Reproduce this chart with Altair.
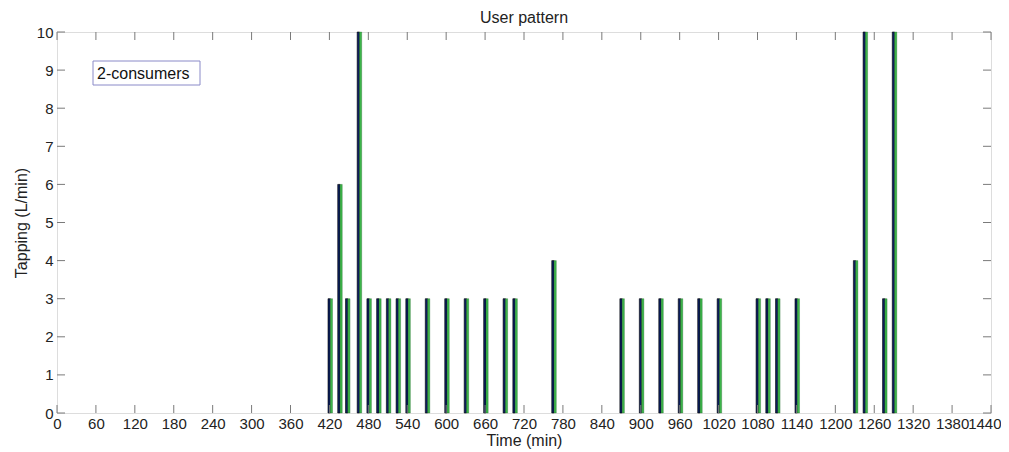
import altair as alt
import pandas as pd

# Data
times = [420, 435, 447, 465, 480, 495, 510, 525, 540, 570, 600, 630, 660, 690, 705,
         765, 870, 900, 930, 960, 990, 1020, 1080, 1095, 1110, 1140,
         1230, 1245, 1275, 1290]
tapping = [3, 6, 3, 10, 3, 3, 3, 3, 3, 3, 3, 3, 3, 3, 3,
           4, 3, 3, 3, 3, 3, 3, 3, 3, 3, 3,
           4, 10, 3, 10]
x_ticks = list(range(0, 1441, 60))
y_ticks = list(range(0, 11))
title_text = "User pattern"
legend_text = "2-consumers"

W, H = 934, 381
FONT = "Liberation Sans"
AXC = "#7a7a7a"
TL = 8

df = pd.DataFrame({"t": times, "v": tapping})
xt = pd.DataFrame({"t": x_ticks})
yt = pd.DataFrame({"v": y_ticks})

xs = alt.Scale(domain=[0, 1440], nice=False, zero=False)
ys = alt.Scale(domain=[0, 10], nice=False)

AX = alt.Axis(values=x_ticks, format="d", title="Time (min)", tickSize=0,
              domain=False, grid=False, labelFont=FONT, labelFontSize=15,
              labelColor="#222", labelPadding=3, titleFont=FONT,
              titleFontSize=16, titleFontWeight="normal", titleColor="#222",
              titlePadding=1, labelFlush=False, labelOverlap=False,
              labelAlign=alt.ExprRef("datum.value === 1440 ? 'right' : 'center'"),
              labelOffset=alt.ExprRef("datum.value === 1440 ? 10 : 0"))
AY = alt.Axis(values=y_ticks, format="d", title="Tapping (L/min)", tickSize=0,
              domain=False, grid=False, labelFont=FONT, labelFontSize=15,
              labelColor="#222", labelPadding=4, titleFont=FONT,
              titleFontSize=16, titleFontWeight="normal", titleColor="#222",
              titlePadding=7, labelFlush=False, labelOverlap=False)

base = alt.Chart(df)

dark = base.transform_calculate(x0="datum.t - 2.2", x1="datum.t + 1.4", zero="0").mark_rect(
    color="#0b1d5e", stroke="#000000", strokeWidth=0.6
).encode(
    x=alt.X("x0:Q", scale=xs, axis=AX, title="Time (min)"),
    x2="x1:Q",
    y=alt.Y("zero:Q", scale=ys, axis=AY, title="Tapping (L/min)"),
    y2="v:Q",
)

green = base.transform_calculate(x0="datum.t + 1.4", x1="datum.t + 4.8", zero="0").mark_rect(
    color="#3cb54a", stroke="#1a5a22", strokeWidth=0.3
).encode(
    x=alt.X("x0:Q", scale=xs, axis=AX, title="Time (min)"),
    x2="x1:Q",
    y=alt.Y("zero:Q", scale=ys, axis=AY, title="Tapping (L/min)"),
    y2="v:Q",
)

tick_style = dict(color=AXC, strokeWidth=1)
bt = alt.Chart(xt).mark_rule(**tick_style).encode(
    x=alt.X("t:Q", scale=xs, axis=AX, title="Time (min)"), y=alt.value(H), y2=alt.value(H - TL))
tt = alt.Chart(xt).mark_rule(**tick_style).encode(
    x=alt.X("t:Q", scale=xs, axis=AX, title="Time (min)"), y=alt.value(0), y2=alt.value(TL))
lt = alt.Chart(yt).mark_rule(**tick_style).encode(
    y=alt.Y("v:Q", scale=ys, axis=AY, title="Tapping (L/min)"), x=alt.value(0), x2=alt.value(TL))
rt = alt.Chart(yt).mark_rule(**tick_style).encode(
    y=alt.Y("v:Q", scale=ys, axis=AY, title="Tapping (L/min)"), x=alt.value(W), x2=alt.value(W - TL))

box = alt.Chart(pd.DataFrame({"label": [legend_text]})).mark_rect(
    fill="white", stroke="#8a8ac8", strokeWidth=1
).encode(x=alt.value(36), x2=alt.value(143), y=alt.value(29), y2=alt.value(53))
txt = alt.Chart(pd.DataFrame({"label": [legend_text]})).mark_text(
    font=FONT, fontSize=16, color="#111", align="left", baseline="middle"
).encode(x=alt.value(40), y=alt.value(41.5), text="label:N")

ttl = alt.Chart(pd.DataFrame({"label": [title_text]})).mark_text(
    font=FONT, fontSize=16, color="#222", align="center", baseline="alphabetic"
).encode(x=alt.value(W / 2), y=alt.value(-9), text="label:N")

chart = alt.layer(dark, green, bt, tt, lt, rt, box, txt, ttl).properties(
    width=W, height=H,
    autosize=alt.AutoSizeParams(type="none"),
    padding={"left": 49, "top": 24, "right": 10, "bottom": 36},
).configure_view(stroke=AXC, strokeWidth=1).configure(background="white")

chart.save("out.html", embed_options={"renderer": "svg", "actions": False})
